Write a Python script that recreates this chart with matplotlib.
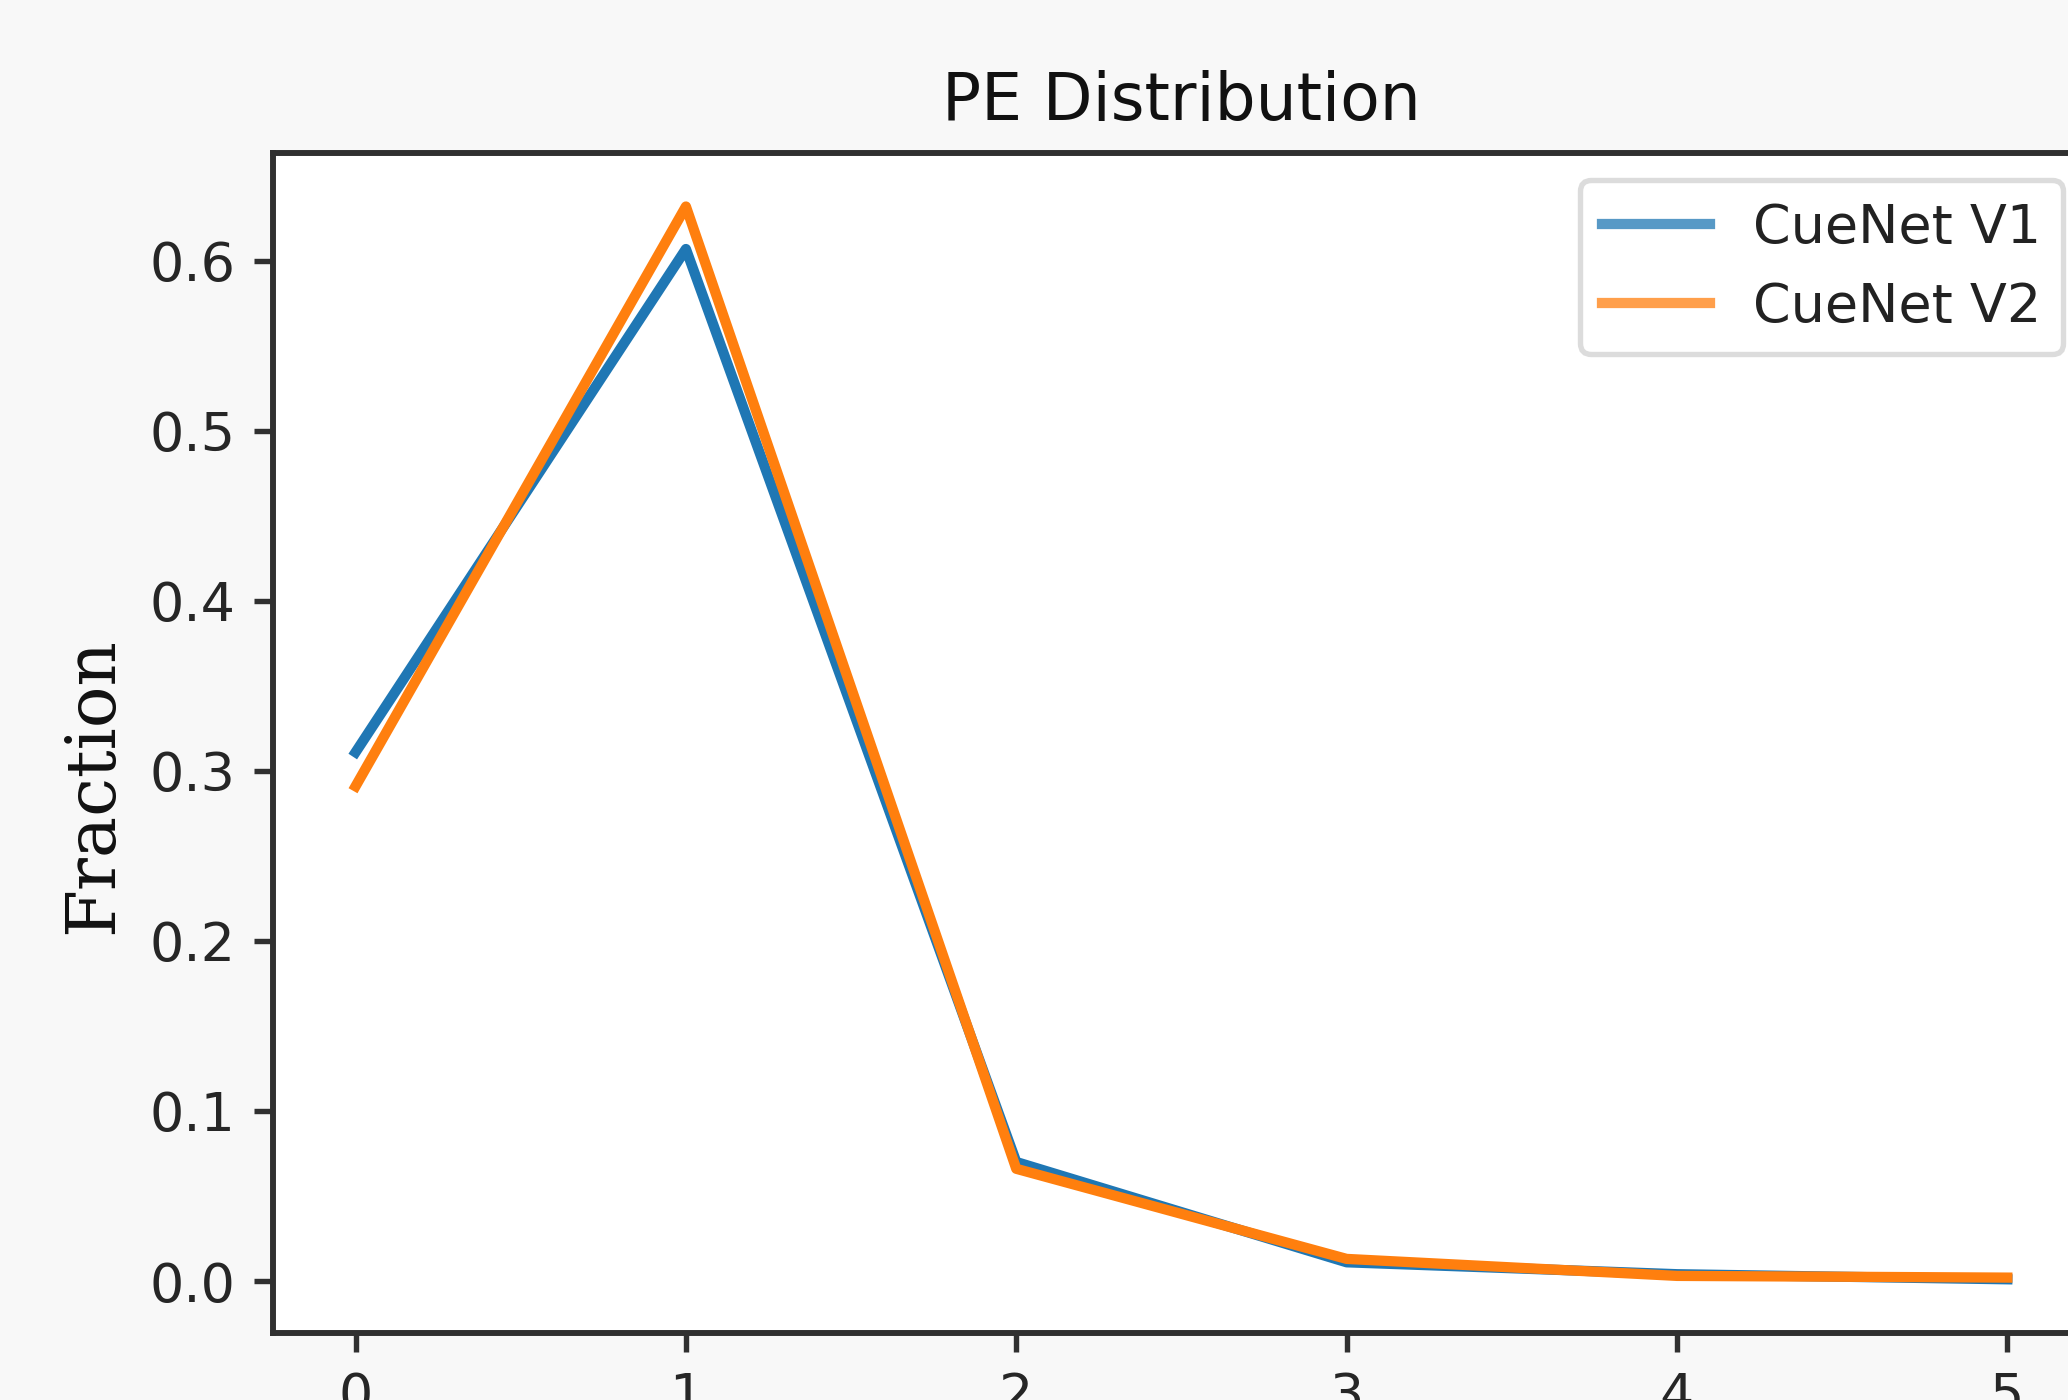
import matplotlib

matplotlib.use("Agg")
import matplotlib.pyplot as plt

# PE counts and fractions
pe = [0, 1, 2, 3, 4, 5]
cuenet_v1 = [0.311, 0.607, 0.070, 0.011, 0.004, 0.001]
cuenet_v2 = [0.291, 0.632, 0.066, 0.013, 0.003, 0.002]
labels = ["CueNet V1", "CueNet V2"]

pt = 5.4 * 72 / 100  # original pt -> pt at dpi 100 (source was a small png blown up)

plt.rcParams.update({
    "font.family": "DejaVu Sans",
    "axes.linewidth": 1.1 * pt,
    "xtick.major.size": 3.5 * pt,
    "ytick.major.size": 3.5 * pt,
    "xtick.major.width": 1.0 * pt,
    "ytick.major.width": 1.0 * pt,
    "xtick.major.pad": 3.5 * pt,
    "ytick.major.pad": 3.5 * pt,
    "xtick.labelsize": 10 * pt,
    "ytick.labelsize": 10 * pt,
    "axes.edgecolor": "#303030",
    "xtick.color": "#303030",
    "ytick.color": "#303030",
    "xtick.labelcolor": "#262626",
    "ytick.labelcolor": "#262626",
})

fig = plt.figure(figsize=(20.68, 14.0), dpi=100, facecolor="#f8f8f8")
ax = fig.add_axes([0.1320, 0.0479, 0.8786, 0.8429])
ax.set_facecolor("white")

ax.plot(pe, cuenet_v1, color="#1f77b4", lw=1.9 * pt, label=labels[0])
ax.plot(pe, cuenet_v2, color="#ff7f0e", lw=1.9 * pt, label=labels[1])

ax.set_title("PE Distribution", fontsize=12 * pt, pad=6 * pt, color="#111111")
ax.set_ylabel("Fraction", family="serif", fontsize=12.8 * pt, color="#111111")
ax.yaxis.set_label_coords(-0.081, 0.464)
ax.set_yticks([0.0, 0.1, 0.2, 0.3, 0.4, 0.5, 0.6])

leg = ax.legend(loc="upper right", fontsize=10 * pt, frameon=True)
leg.get_frame().set_linewidth(1.0 * pt)
leg.get_frame().set_edgecolor("#d4d4d4")
for h in leg.get_lines():
    h.set_alpha(0.75)
for t in leg.get_texts():
    t.set_color("#222222")

fig.savefig("out.png", dpi=100, facecolor=fig.get_facecolor())
